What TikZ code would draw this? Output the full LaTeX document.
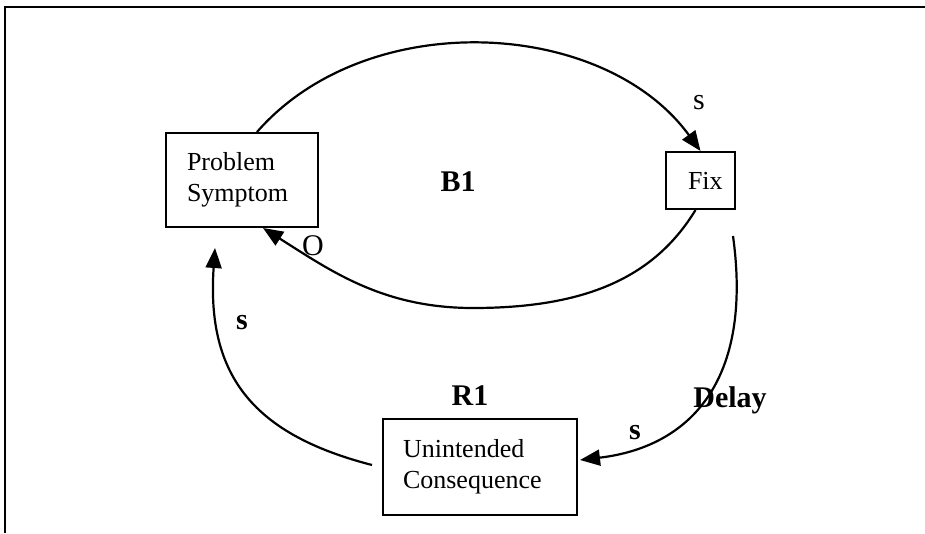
\documentclass[tikz,border=0pt]{standalone}
\usepackage{fontspec}
\setmainfont{Liberation Serif}
\usetikzlibrary{arrows.meta,calc}
\begin{document}
\begin{tikzpicture}[x=1pt,y=-1pt,
  box/.style={draw,line width=2pt,inner ysep=0pt,align=left,
    font=\fontsize{26}{31}\selectfont},
  link/.style={line width=2.2pt,-{Triangle[length=20pt,width=16pt]}},
  loopname/.style={font=\fontsize{30}{36}\selectfont\bfseries,inner sep=0pt},
  sign/.style={font=\fontsize{30}{36}\selectfont,inner sep=0pt},
  boldsign/.style={font=\fontsize{30}{36}\selectfont\bfseries,inner sep=0pt}]
\useasboundingbox (0,0) rectangle (925,533);

% frame
\draw[line width=2.2pt] (5,533) -- (5,7) -- (925,7);

% variables
\node[box,inner xsep=21pt,text width=110pt,minimum height=94pt] (ps) at (242,180)
  {Problem\\Symptom};
\node[box,inner xsep=22pt,text width=25pt,minimum height=57pt] (fix) at (700.5,180.5)
  {Fix};
\node[box,inner xsep=20pt,text width=154pt,minimum height=96pt] (uc) at (480,467)
  {Unintended\\Consequence};

% balancing loop B1
\draw[link] ([xshift=15]ps.north) .. controls +(110,-126) and +(-97,-133) .. (fix.north);
\coordinate (b1low) at (473,308);
\draw[link] ([xshift=-5]fix.south) .. controls +(-42,69) and +(110,0) .. (b1low)
  .. controls +(-90,0) and +(68,43) .. ([xshift=21]ps.south);

% reinforcing loop R1
\coordinate (dstart) at ([shift={(-3,26)}]fix.south east);
\draw[link] (dstart) .. controls +(20,145) and +(110,-13) .. ([shift={(2,-7)}]uc.east);
\draw[link] ([shift={(-10,-2)}]uc.west) .. controls +(-116,-30) and +(-9,130)
  .. ([shift={(-27,20)}]ps.south);

% loop names and polarities
\node[loopname] (b1) at (458,182) {B1};
\node[loopname] (r1) at (470,396) {R1};
\node[loopname] (delay) at (730,400) {Delay};
\node[sign] (s1) at (699,103) {s};
\node[sign] (o1) at (313,246) {O};
\node[boldsign] (s2) at (242,323) {s};
\node[boldsign] (s3) at (635,433) {s};
\end{tikzpicture}
\end{document}
